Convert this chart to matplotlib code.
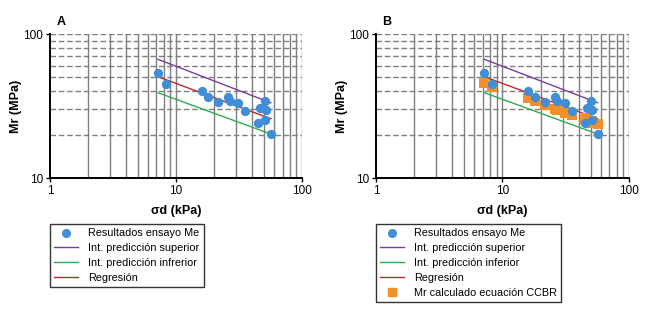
import numpy as np
import matplotlib.pyplot as plt
from matplotlib.lines import Line2D

plt.rcParams['font.family'] = ['Liberation Sans', 'DejaVu Sans']

# resultados ensayo (sigma_d kPa, Mr MPa)
sigma_d = [7.2, 8.3, 16.0, 18.0, 21.5, 25.8, 27.0, 31.3, 35.3, 45.1, 46.6, 50.5, 51.4, 50.8, 56.6]
mr_ensayo = [53.5, 45.2, 40.2, 36.5, 33.8, 36.3, 34.1, 33.0, 29.3, 24.1, 30.4, 34.0, 29.8, 25.4, 20.2]

# Mr calculado con la ecuación CCBR (panel B)
mr_ccbr = [45.9, 43.0, 35.9, 34.2, 32.1, 30.0, 29.8, 28.1, 27.3, 25.6, 26.0, 24.2, 24.8, 24.5, 23.7]

# rectas (extremos) en escala log-log
x_lin = [7.2, 56.5]
y_sup = [66.7, 33.3]
y_reg = [50.5, 25.8]
y_inf = [39.1, 20.2]

c_blue = '#3f8ed6'
c_orange = '#f58f29'
c_purple = '#7a3d9c'
c_red = '#c1272d'
c_green = '#2fad4e'
c_grid = '#7f7f7f'

fig = plt.figure(figsize=(6.47, 3.16), dpi=100)


def panel(left, width, letter, with_ccbr):
    ax = fig.add_axes([left, 0.4367, width, 0.4557])
    ax.set_xscale('log')
    ax.set_yscale('log')
    ax.set_xlim(1, 100)
    ax.set_ylim(10, 100)

    # rejilla
    for v in list(range(2, 10)) + list(range(10, 101, 10)):
        ax.axvline(v, color=c_grid, lw=1, zorder=0)
    for v in range(20, 101, 10):
        ax.axhline(v, color=c_grid, lw=1, ls=(0, (4, 2)), zorder=0)

    for s in ['top', 'right']:
        ax.spines[s].set_visible(False)
    for s in ['left', 'bottom']:
        ax.spines[s].set_linewidth(1.4)

    ax.set_xticks([1, 10, 100])
    ax.set_xticklabels(['1', '10', '100'])
    ax.set_yticks([10, 100])
    ax.set_yticklabels(['10', '100'])
    ax.minorticks_off()
    ax.tick_params(labelsize=8.5, length=3, width=1, pad=2)

    ax.plot(x_lin, y_sup, color=c_purple, lw=1, zorder=2)
    ax.plot(x_lin, y_inf, color=c_green, lw=1, zorder=2)
    ax.plot(x_lin, y_reg, color=c_red, lw=1, zorder=2)
    if with_ccbr:
        ax.scatter(sigma_d, mr_ccbr, s=55, marker='s', color=c_orange, zorder=3, linewidths=0)
    ax.scatter(sigma_d, mr_ensayo, s=45, color=c_blue, zorder=4, linewidths=0)

    ax.set_ylabel('Mr (MPa)', fontsize=9, fontweight='bold', labelpad=1)
    ax.set_xlabel('σd (kPa)', fontsize=9, fontweight='bold', labelpad=6)
    ax.text(0.025, 1.06, letter, transform=ax.transAxes, fontsize=9, fontweight='bold')

    handles = [
        Line2D([], [], marker='o', ls='none', color=c_blue, markersize=5.5),
        Line2D([], [], color=c_purple, lw=1),
        Line2D([], [], color=c_green, lw=1),
        Line2D([], [], color=c_red, lw=1),
    ]
    labels = ['Resultados ensayo Me', 'Int. predicción superior',
              'Int. predicción inferior' if with_ccbr else 'Int. predicción infrerior', 'Regresión']
    if with_ccbr:
        handles.append(Line2D([], [], marker='s', ls='none', color=c_orange, markersize=5.5))
        labels.append('Mr calculado ecuación CCBR')
    leg = fig.legend(handles, labels, loc='upper left', bbox_to_anchor=(left, 0.291),
                     fontsize=7.8, frameon=True, fancybox=False, borderaxespad=0,
                     handlelength=2.2, handletextpad=0.9, labelspacing=0.45,
                     borderpad=0.4)
    leg.get_frame().set_edgecolor('black')
    leg.get_frame().set_linewidth(1)
    return ax


panel(0.0773, 0.3895, 'A', False)
panel(0.5811, 0.391, 'B', True)

fig.savefig('out.png', dpi=100)
